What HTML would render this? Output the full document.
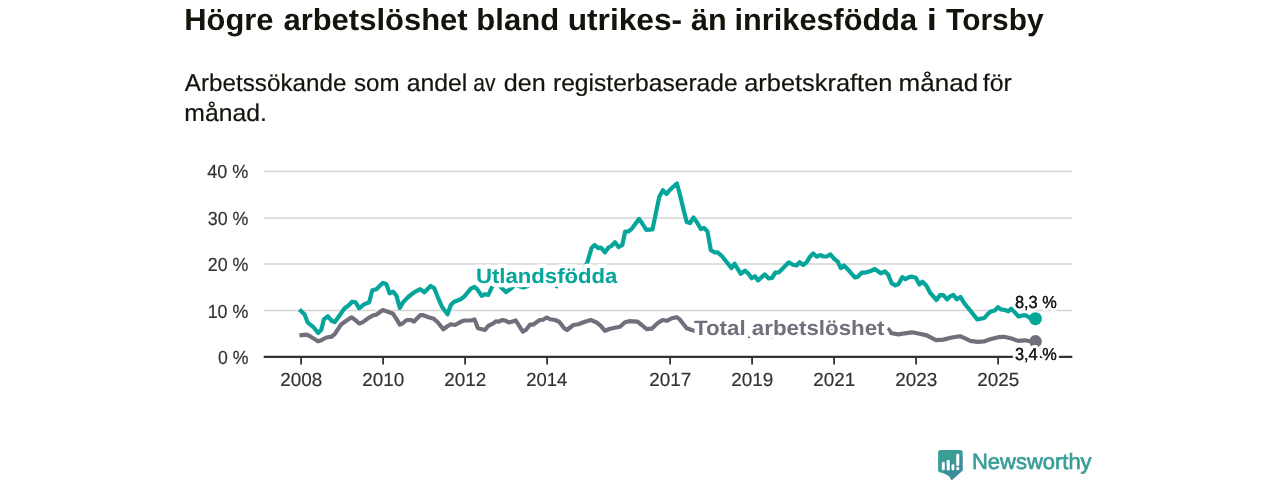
<!DOCTYPE html>
<html lang="sv">
<head>
<meta charset="utf-8">
<title>Högre arbetslöshet bland utrikes- än inrikesfödda i Torsby</title>
<style>
html,body{margin:0;padding:0;background:#ffffff;}
body{width:1280px;height:480px;position:relative;overflow:hidden;font-family:"Liberation Sans",sans-serif;}
</style>
</head>
<body>
<svg width="1280" height="480" viewBox="0 0 1280 480" style="position:absolute;left:0;top:0">
<g font-family="'Liberation Sans', sans-serif" opacity="0.9999" style="text-rendering:geometricPrecision">
<text transform="translate(184.22,30) scale(1.0159,1)" font-size="30.4" font-weight="bold" fill="#14140c" >Högre</text>
<text transform="translate(283.40,30) scale(1.0194,1)" font-size="30.4" font-weight="bold" fill="#14140c" >arbetslöshet</text>
<text transform="translate(476.36,30) scale(1.0210,1)" font-size="30.4" font-weight="bold" fill="#14140c" >bland</text>
<text transform="translate(567.71,30) scale(1.0426,1)" font-size="30.4" font-weight="bold" fill="#14140c" >utrikes-</text>
<text transform="translate(690.90,30) scale(1.0058,1)" font-size="30.4" font-weight="bold" fill="#14140c" >än</text>
<text transform="translate(734.58,30) scale(1.0100,1)" font-size="30.4" font-weight="bold" fill="#14140c" >inrikesfödda</text>
<text transform="translate(926.75,30) scale(1.2000,1)" font-size="30.4" font-weight="bold" fill="#14140c" >i</text>
<text transform="translate(946.10,30) scale(0.9832,1)" font-size="30.4" font-weight="bold" fill="#14140c" >Torsby</text>
<text transform="translate(184.75,91) scale(1.0022,1)" font-size="24.2" font-weight="normal" fill="#14140c" stroke="#14140c" stroke-width="0.2">Arbetssökande</text>
<text transform="translate(354.00,91) scale(0.9967,1)" font-size="24.2" font-weight="normal" fill="#14140c" stroke="#14140c" stroke-width="0.2">som</text>
<text transform="translate(406.73,91) scale(1.0236,1)" font-size="24.2" font-weight="normal" fill="#14140c" stroke="#14140c" stroke-width="0.2">andel</text>
<text transform="translate(473.23,91) scale(0.8703,1)" font-size="24.2" font-weight="normal" fill="#14140c" stroke="#14140c" stroke-width="0.2">av</text>
<text transform="translate(503.66,91) scale(1.0395,1)" font-size="24.2" font-weight="normal" fill="#14140c" stroke="#14140c" stroke-width="0.2">den</text>
<text transform="translate(552.98,91) scale(1.0174,1)" font-size="24.2" font-weight="normal" fill="#14140c" stroke="#14140c" stroke-width="0.2">registerbaserade</text>
<text transform="translate(744.20,91) scale(1.0500,1)" font-size="24.2" font-weight="normal" fill="#14140c" stroke="#14140c" stroke-width="0.2">arbetskraften</text>
<text transform="translate(898.62,91) scale(1.0755,1)" font-size="24.2" font-weight="normal" fill="#14140c" stroke="#14140c" stroke-width="0.2">månad</text>
<text transform="translate(982.75,91) scale(1.0241,1)" font-size="24.2" font-weight="normal" fill="#14140c" stroke="#14140c" stroke-width="0.2">för</text>
<text transform="translate(184.28,121) scale(1.0224,1)" font-size="24.2" font-weight="normal" fill="#14140c" stroke="#14140c" stroke-width="0.2">månad.</text>
<line x1="264" x2="1072" y1="310.5" y2="310.5" stroke="#d4d4d4" stroke-width="1.5"/>
<line x1="264" x2="1072" y1="264.0" y2="264.0" stroke="#d4d4d4" stroke-width="1.5"/>
<line x1="264" x2="1072" y1="218.0" y2="218.0" stroke="#d4d4d4" stroke-width="1.5"/>
<line x1="264" x2="1072" y1="171.45" y2="171.45" stroke="#d4d4d4" stroke-width="1.5"/>
<text transform="translate(218.00,364) scale(0.9286,1)" font-size="19" font-weight="normal" fill="#333333" stroke="#333333" stroke-width="0.2">0 %</text>
<text transform="translate(207.66,318) scale(0.9408,1)" font-size="19" font-weight="normal" fill="#333333" stroke="#333333" stroke-width="0.2">10 %</text>
<text transform="translate(207.80,271) scale(0.9375,1)" font-size="19" font-weight="normal" fill="#333333" stroke="#333333" stroke-width="0.2">20 %</text>
<text transform="translate(207.80,225) scale(0.9375,1)" font-size="19" font-weight="normal" fill="#333333" stroke="#333333" stroke-width="0.2">30 %</text>
<text transform="translate(207.30,178) scale(0.9490,1)" font-size="19" font-weight="normal" fill="#333333" stroke="#333333" stroke-width="0.2">40 %</text>
<polyline points="299.4,335.4 306.7,334.6 310.8,336.7 318.1,341.3 321.3,340.2 326.5,337.5 331.7,336.7 334.8,334 341,324.6 345.2,321.5 351.5,317.3 354.6,319.4 359.2,323.5 362.9,322.1 368.1,318.3 373.3,315.2 376.5,314.6 382.7,310 387.9,311.7 393.1,313.8 397.3,320.4 399.8,324.6 402.5,323.5 406.7,320 410.8,320 414,321.5 420.2,315.2 423.3,315.2 428.5,317.3 433.8,318.8 437.9,322.5 442.1,327.7 443.3,329.2 447.5,326.3 450.8,324.2 455,325 461.7,321.3 465,320.5 470.8,320.5 474.5,319.5 478,328.3 485,330 488.3,325.8 493.3,323.3 495.8,321.3 498.3,321.7 502.5,320 505.8,320.8 509.2,322.5 515.8,320.5 522.8,331.7 525.8,330 530,324.7 533,324.7 539.7,320 542.5,320 546.7,317.5 550,319.2 555,320 559.2,321.7 564.2,328.3 567,330 573.3,325 578.3,324.2 585,321.7 590.8,320 596.7,322.5 600.8,325.8 605,330.8 610,328.8 615,327.8 620,326.7 625,322.2 629.2,321.2 637.5,321.7 641.7,325 646.7,329.2 651.7,328.7 657.5,323.3 662.5,320 666.7,320.8 671.7,318.3 676.7,317.2 680,319.7 686.7,328.3 691.7,330 695,331 700,332 710,333 720,334.6 729,336.8 740,336.3 749,335.6 760,336.2 772.5,336.9 790,335.3 805,331 815,328 830,328 845,330 860,331 875,331 885,330 888.3,329.2 891.7,333.3 898.5,334.4 904.8,333.3 912.1,332.3 919.4,333.8 926.7,335.4 936,340.2 943.3,339.6 951.7,337.5 960,336.2 964.7,338.1 970.3,340.9 977.8,341.8 984.4,341.3 990.9,339 998.4,337.2 1004,336.8 1011.5,338.5 1018.1,340.9 1024.7,340.3 1030.3,341.3 1035.5,341.5" fill="none" stroke="#716f7b" stroke-width="4.2" stroke-linejoin="round" stroke-linecap="butt"/>
<polyline points="299.4,309.6 304.6,314.6 307.7,322.5 314,327.7 318.1,332.9 321.3,329.8 323.8,319.4 327.9,316.3 331.7,320.8 334.8,322.1 339,316.3 344.6,308.3 348.3,305.8 352.1,301.7 355.6,302.3 359.2,308.3 364,304.4 369.2,302.3 372.3,290.2 376.5,289.2 382.7,282.9 386.3,284 389.6,293.3 393.1,291.7 396.3,295.4 399.8,307.9 403.5,301.7 408.8,296.5 414,292.3 420.2,289.2 424.4,292.3 430.6,286 434.2,288.1 437.9,297.5 442.1,306.9 447.5,314.2 450.8,305 454.2,301.7 460.8,299.2 465,295.8 470.8,288.6 474.5,286.9 477.5,289.6 481.7,295.8 485,294.2 488.3,295 491.7,287.5 495.4,282 501,287.25 506.2,292.1 512.2,287.5 515.5,284 518.5,286.1 523.3,287.6 528,286.1 531,283.3 536,282 545,281 553.5,282 556.7,286.3 559.5,281.5 565,280 575,276 582,272 587.3,262.7 591.5,248.1 594.6,245 598.3,248.1 600.8,247.5 605,252.3 608.5,247.5 611.3,246 615,242.3 618.5,247.1 622.3,245 625.2,231.5 628.3,231.5 631.7,228.8 639,219 642.5,223.8 646.3,229.8 652.5,229.4 659.2,197.1 662.9,190.2 666.5,194 670,189.8 676.9,183.5 680,195 683.5,209.6 686.7,222.1 690,223.1 693.5,217.5 697.1,222.5 700.8,229 704,227.9 707.5,231.5 710.8,250.2 714.4,252.3 717.5,252.3 721.7,255.8 725.2,260.2 731.5,268.1 734.6,263.8 740.8,273.8 745,270.6 748.1,273.3 751.7,278.3 755,276.3 758.1,280.4 764.8,274.4 768.5,278.3 772.1,277.9 775.2,272.7 779,272.3 788.8,262.3 792.9,264.8 796.5,265.4 799.6,262.3 803.3,265 806.5,262.3 810,256.7 813.1,253.5 816.9,256.7 820,255 823.5,256.5 826.7,256.5 830.4,254.4 834.2,258.8 837.7,261.7 840.8,268.1 844,265.4 847.5,269.2 855,277.5 857.5,276.9 861.7,272.7 864.8,272.7 870,271.3 874.8,269 880.8,273.3 885,271.5 888.1,274.6 891.7,283.3 895.4,285.4 898.5,284 902.3,277.1 905.4,279.2 909,277.1 912.1,276.7 915.8,277.7 919.4,284.4 922.5,281.7 926.3,285.4 929.8,292.3 936.5,300 939.8,295.2 943.3,295.2 947.1,299.4 950.2,296.3 953.3,294.8 956.9,299.4 960.4,296.9 964.2,303.1 970.4,310.8 977.2,319.4 984.4,318 988.1,313.7 990.9,311.5 994.7,310.4 998,307.2 1001.2,309.4 1005,310 1008.4,311.3 1011.2,308.7 1014.3,311.9 1018.5,316.5 1021.8,315.6 1025.2,315.2 1028.4,316.9 1031.8,319.4 1035.5,318.8" fill="none" stroke="#06a59b" stroke-width="4.2" stroke-linejoin="round" stroke-linecap="butt"/>
<line x1="263.7" x2="1072.3" y1="356.95" y2="356.95" stroke="#333" stroke-width="2.2"/>
<line x1="301.10" x2="301.10" y1="356.95" y2="364.55" stroke="#333" stroke-width="1.8"/>
<text transform="translate(280.20,386) scale(0.9928,1)" font-size="19" font-weight="normal" fill="#333333" stroke="#333333" stroke-width="0.2">2008</text>
<line x1="383.10" x2="383.10" y1="356.95" y2="364.55" stroke="#333" stroke-width="1.8"/>
<text transform="translate(362.20,386) scale(0.9928,1)" font-size="19" font-weight="normal" fill="#333333" stroke="#333333" stroke-width="0.2">2010</text>
<line x1="465.10" x2="465.10" y1="356.95" y2="364.55" stroke="#333" stroke-width="1.8"/>
<text transform="translate(444.20,386) scale(0.9928,1)" font-size="19" font-weight="normal" fill="#333333" stroke="#333333" stroke-width="0.2">2012</text>
<line x1="547.10" x2="547.10" y1="356.95" y2="364.55" stroke="#333" stroke-width="1.8"/>
<text transform="translate(526.20,386) scale(0.9695,1)" font-size="19" font-weight="normal" fill="#333333" stroke="#333333" stroke-width="0.2">2014</text>
<line x1="670.10" x2="670.10" y1="356.95" y2="364.55" stroke="#333" stroke-width="1.8"/>
<text transform="translate(649.20,386) scale(0.9928,1)" font-size="19" font-weight="normal" fill="#333333" stroke="#333333" stroke-width="0.2">2017</text>
<line x1="752.10" x2="752.10" y1="356.95" y2="364.55" stroke="#333" stroke-width="1.8"/>
<text transform="translate(731.20,386) scale(0.9928,1)" font-size="19" font-weight="normal" fill="#333333" stroke="#333333" stroke-width="0.2">2019</text>
<line x1="834.10" x2="834.10" y1="356.95" y2="364.55" stroke="#333" stroke-width="1.8"/>
<text transform="translate(813.20,386) scale(0.9928,1)" font-size="19" font-weight="normal" fill="#333333" stroke="#333333" stroke-width="0.2">2021</text>
<line x1="916.10" x2="916.10" y1="356.95" y2="364.55" stroke="#333" stroke-width="1.8"/>
<text transform="translate(895.20,386) scale(0.9928,1)" font-size="19" font-weight="normal" fill="#333333" stroke="#333333" stroke-width="0.2">2023</text>
<line x1="998.10" x2="998.10" y1="356.95" y2="364.55" stroke="#333" stroke-width="1.8"/>
<text transform="translate(977.20,386) scale(0.9928,1)" font-size="19" font-weight="normal" fill="#333333" stroke="#333333" stroke-width="0.2">2025</text>
<circle cx="1035.5" cy="341.4" r="6.3" fill="#716f7b"/>
<circle cx="1035.4" cy="318.7" r="6.5" fill="#06a59b"/>
<text transform="translate(476.0,283) scale(1.0642,1)" font-size="20.8" font-weight="bold" fill="#06a59b" text-anchor="start" stroke="#fff" stroke-width="8.6" stroke-linejoin="round" paint-order="stroke">Utlandsfödda</text>
<text transform="translate(694.0,335) scale(1.0728,1)" font-size="20.8" font-weight="bold" fill="#716f7b" text-anchor="start" stroke="#fff" stroke-width="8.6" stroke-linejoin="round" paint-order="stroke">Total arbetslöshet</text>
<text transform="translate(1014.90,308) scale(0.9408,1)" font-size="17.4" font-weight="normal" fill="#1c1c1c" stroke="#fff" stroke-width="6" stroke-linejoin="round" paint-order="stroke">8,3 %</text><text transform="translate(1014.90,308) scale(0.9408,1)" font-size="17.4" font-weight="normal" fill="#1c1c1c" stroke="#1c1c1c" stroke-width="0.25">8,3 %</text>
<text transform="translate(1014.90,360) scale(0.9408,1)" font-size="17.4" font-weight="normal" fill="#1c1c1c" stroke="#fff" stroke-width="6" stroke-linejoin="round" paint-order="stroke">3,4 %</text><text transform="translate(1014.90,360) scale(0.9408,1)" font-size="17.4" font-weight="normal" fill="#1c1c1c" stroke="#1c1c1c" stroke-width="0.25">3,4 %</text>
<text transform="translate(972.0,469) scale(0.9982,1)" font-family="'Liberation Sans', sans-serif" font-size="22" fill="#3a9e97" stroke="#3a9e97" stroke-width="0.7">Newsworthy</text>
</g>
<g opacity="0.9999" style="text-rendering:geometricPrecision">
<defs><clipPath id="lg"><path d="M940.6 450 H960.2 Q962.7 450 962.7 452.5 V470.6 L952.6 479.6 L951.7 481 L949.6 476.8 L946.7 474.7 L942.5 473.1 L939.4 472.3 Q938.1 471.9 938.1 470.3 V452.5 Q938.1 450 940.6 450 Z"/></clipPath></defs>
<g clip-path="url(#lg)"><rect x="930" y="445" width="40" height="40" fill="#3a9e97"/>
<g opacity="0.32">
<path d="M941.9 470.2 L944.8 462.5 L960 477.7 L957 485 Z" fill="#3e6fa0"/>
<path d="M946.7 470.4 L949.75 460.5 L966 476.7 L963 486 Z" fill="#3e6fa0"/>
<path d="M951.5 470.2 L954.4 464.6 L970 480 L967 486 Z" fill="#3e6fa0"/>
<path d="M956.25 470.2 L959.3 454.2 L975 470 L972 486 Z" fill="#3e6fa0"/>
</g></g>
<rect x="941.9" y="462.1" width="2.9" height="8.1" rx="1.2" fill="#fff"/>
<rect x="946.7" y="460" width="3.05" height="10.4" rx="1.2" fill="#fff"/>
<rect x="951.5" y="464.2" width="2.9" height="6" rx="1.2" fill="#fff"/>
<rect x="956.25" y="453.75" width="3.05" height="12.5" rx="1.4" fill="#fff"/>
<rect x="956.25" y="467.1" width="3.05" height="3.1" rx="1.3" fill="#fff"/>
</g>
</svg>
</body>
</html>
